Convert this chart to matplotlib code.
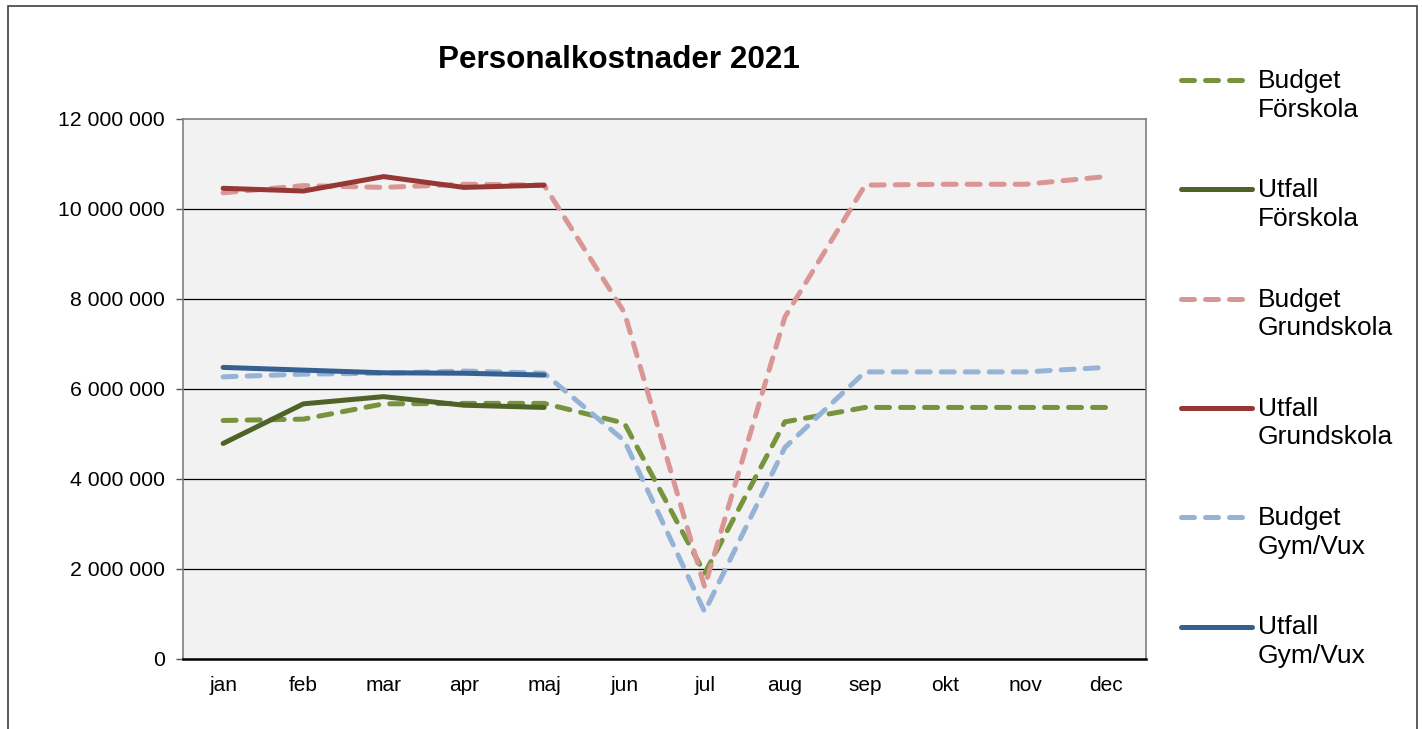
import numpy as np
import matplotlib.pyplot as plt
from matplotlib.lines import Line2D
from matplotlib.patches import Rectangle

plt.rcParams['font.family'] = ['Liberation Sans', 'DejaVu Sans']

months = ['jan', 'feb', 'mar', 'apr', 'maj', 'jun', 'jul', 'aug', 'sep', 'okt', 'nov', 'dec']

budget_forskola = [5.30, 5.33, 5.67, 5.68, 5.68, 5.24, 1.90, 5.27, 5.59, 5.59, 5.59, 5.59]
utfall_forskola = [4.79, 5.67, 5.83, 5.64, 5.59]
budget_grundskola = [10.36, 10.52, 10.48, 10.55, 10.53, 7.70, 1.60, 7.60, 10.53, 10.55, 10.55, 10.72]
utfall_grundskola = [10.46, 10.40, 10.72, 10.48, 10.53]
budget_gymvux = [6.27, 6.33, 6.35, 6.40, 6.35, 4.85, 1.05, 4.70, 6.38, 6.38, 6.38, 6.48]
utfall_gymvux = [6.48, 6.42, 6.36, 6.35, 6.31]

labels = ['Budget\nFörskola', 'Utfall\nFörskola', 'Budget\nGrundskola',
          'Utfall\nGrundskola', 'Budget\nGym/Vux', 'Utfall\nGym/Vux']
colors = ['#77933C', '#4F6228', '#D99694', '#953735', '#95B3D7', '#376092']

series = [budget_forskola, utfall_forskola, budget_grundskola,
          utfall_grundskola, budget_gymvux, utfall_gymvux]

W, H = 1422, 729
fig = plt.figure(figsize=(W / 100, H / 100), dpi=100)
ax = fig.add_axes([183 / W, (H - 659) / H, (1146 - 183) / W, (659 - 119) / H])
ax.set_facecolor('#F2F2F2')

lw = 3.6
dash = (2.6, 2.2)

for i, (vals, col) in enumerate(zip(series, colors)):
    x = np.arange(len(vals))
    y = np.array(vals) * 1e6
    if i % 2 == 0:
        ax.plot(x, y, color=col, lw=lw, dashes=dash, dash_capstyle='round',
                solid_capstyle='round', zorder=3 + i)
    else:
        ax.plot(x, y, color=col, lw=lw, solid_capstyle='round',
                solid_joinstyle='round', zorder=3 + i)

ax.set_xlim(-0.5, 11.5)
ax.set_ylim(0, 12e6)
ax.set_xticks(range(12))
ax.set_xticklabels(months)
yt = np.arange(0, 12e6 + 1, 2e6)
ax.set_yticks(yt)
ax.set_yticklabels([f'{v:,.0f}'.replace(',', ' ') for v in yt])
ax.tick_params(axis='x', length=0, labelsize=15, pad=12)
ax.tick_params(axis='y', length=5, width=1, color='#555555', labelsize=15.3, pad=8)

for v in yt[1:-1]:
    ax.axhline(v, color='black', lw=0.9, zorder=1)

for s in ['left', 'top', 'right']:
    ax.spines[s].set_color('#7F7F7F')
    ax.spines[s].set_linewidth(1.2)
ax.spines['bottom'].set_color('black')
ax.spines['bottom'].set_linewidth(1.8)

fig.text(619 / W, 1 - 60 / H, 'Personalkostnader 2021', fontsize=22.6,
         fontweight='bold', ha='center', va='center')

# legend, drawn by hand so the handle sits on the first text line
for i, (lab, col) in enumerate(zip(labels, colors)):
    yp = 1 - (80 + 109.3 * i) / H
    if i % 2 == 0:
        ln = Line2D([1181 / W, 1248 / W], [yp, yp], color=col, lw=lw,
                    dashes=dash, dash_capstyle='round', transform=fig.transFigure)
    else:
        ln = Line2D([1181 / W, 1252 / W], [yp, yp], color=col, lw=lw,
                    solid_capstyle='round', transform=fig.transFigure)
    fig.add_artist(ln)
    fig.text(1258 / W, yp + 11 / H, lab, fontsize=19, ha='left', va='top',
             linespacing=1.24)

frame = Rectangle((7.5 / W, -0.2), (1417 - 7.5) / W, 1.2 - 5.5 / H,
                  transform=fig.transFigure, fill=False, edgecolor='#404040',
                  lw=1.2, clip_on=False)
fig.add_artist(frame)

fig.savefig('out.png', dpi=100)
